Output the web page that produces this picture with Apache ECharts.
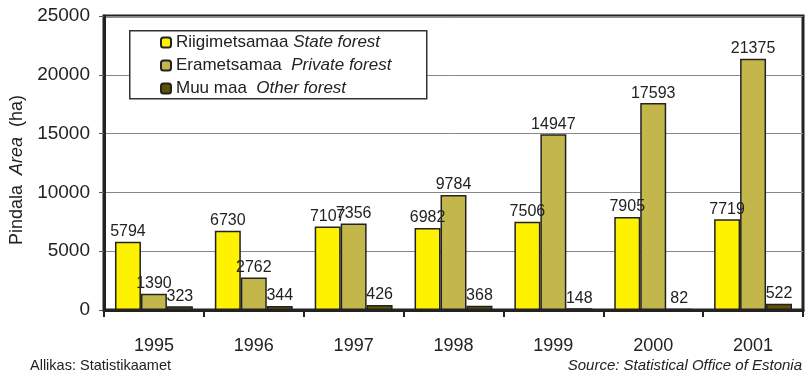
<!DOCTYPE html>
<html><head><meta charset="utf-8">
<script src="https://cdn.jsdelivr.net/npm/echarts@6/dist/echarts.min.js"></script>
<style>html,body{margin:0;padding:0;background:#fff}#c{width:805px;height:373px}</style>
</head><body><div id="c"></div>
<script>
const years = ['1995','1996','1997','1998','1999','2000','2001'];
const stateForest = [5794, 6730, 7107, 6982, 7506, 7905, 7719];
const privateForest = [1390, 2762, 7356, 9784, 14947, 17593, 21375];
const otherForest = [323, 344, 426, 368, 148, 82, 522];
const seriesNames = ['Riigimetsamaa State forest', 'Erametsamaa  Private forest', 'Muu maa  Other forest'];
const seriesColors = ['#FFF200', '#C3B74C', '#5E5400'];

const chart = echarts.init(document.getElementById('c'));
const FONT = 'Liberation Sans, Arial, sans-serif';
function mk(i, data) {
  return {
    name: seriesNames[i], type: 'bar', data: data,
    barGap: '0%', barCategoryGap: '22%',
    itemStyle: { color: seriesColors[i], borderColor: '#222', borderWidth: 1.5 },
    label: { show: true, position: 'top', distance: 2, color: '#222', fontSize: 16, fontFamily: FONT },
    emphasis: { disabled: true }
  };
}
chart.setOption({
  animation: false,
  textStyle: { fontFamily: FONT },
  grid: { left: 104, right: 2, top: 16, bottom: 63, show: true, borderColor: '#222', borderWidth: 3,
          containLabel: false, outerBoundsMode: 'none' },
  legend: {
    left: 160, top: 34, orient: 'vertical', itemWidth: 10, itemHeight: 10, itemGap: 6, itemTextGap: 5, z: 20,
    padding: 0,
    data: seriesNames,
    formatter: function (n) {
      const i = seriesNames.indexOf(n);
      const parts = [['Riigimetsamaa ', 'State forest'], ['Erametsamaa  ', 'Private forest'], ['Muu maa  ', 'Other forest']][i];
      return '{a|' + parts[0] + '}{b|' + parts[1] + '}';
    },
    textStyle: {
      rich: {
        a: { fontSize: 17, lineHeight: 18, color: '#222', fontFamily: FONT },
        b: { fontSize: 17, lineHeight: 18, color: '#222', fontStyle: 'italic', fontFamily: FONT }
      }
    }
  },
  graphic: [
    { type: 'rect', left: 129, top: 30, shape: { width: 297, height: 68 }, style: { fill: '#fff', stroke: '#333', lineWidth: 1.5 }, z: 5 },
    { type: 'text', left: 30, top: 358, style: { text: 'Allikas: Statistikaamet', fontSize: 14.5, fill: '#222', fontFamily: FONT } },
    { type: 'text', right: 3, top: 358, style: { text: 'Source: Statistical Office of Estonia', fontSize: 15, fontStyle: 'italic', fill: '#222', fontFamily: FONT } }
  ],
  xAxis: {
    type: 'category', data: years,
    axisLine: { lineStyle: { color: '#222', width: 3 } },
    axisTick: { show: true, length: 7, lineStyle: { color: '#222', width: 2 } },
    axisLabel: { margin: 27, fontSize: 18, color: '#222' }
  },
  yAxis: {
    type: 'value', min: 0, max: 25000, interval: 5000,
    name: '{a|Pindala  }{b|Area}{a|  (ha)}', nameLocation: 'middle', nameGap: 78,
    nameTextStyle: { padding: [0, 14, 0, 0], rich: { a: { fontSize: 18, color: '#222', fontFamily: FONT }, b: { fontSize: 18, color: '#222', fontStyle: 'italic', fontFamily: FONT } } },
    axisLine: { show: true, lineStyle: { color: '#222', width: 3 } },
    axisTick: { show: true, length: 5, lineStyle: { color: '#555', width: 1 } },
    axisLabel: { margin: 14, fontSize: 19, color: '#222', formatter: function (v) { return String(v); } },
    splitLine: { lineStyle: { color: '#888', width: 1 } }
  },
  series: [mk(0, stateForest), mk(1, privateForest), mk(2, otherForest)]
});
</script></body></html>
